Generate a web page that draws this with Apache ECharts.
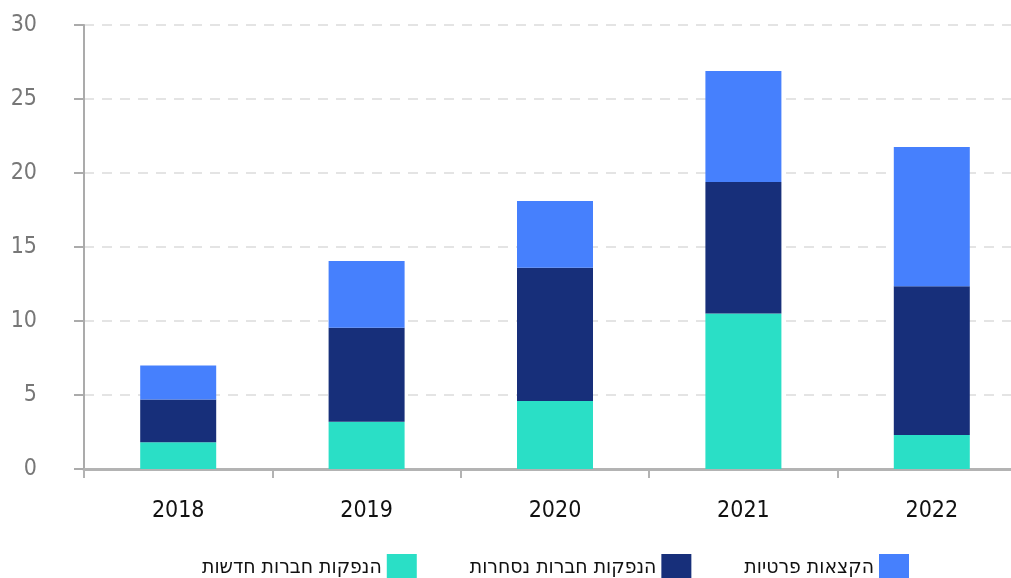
<!DOCTYPE html>
<html>
<head>
<meta charset="utf-8">
<script src="https://cdn.jsdelivr.net/npm/echarts@6/dist/echarts.min.js"></script>
<style>
html,body{margin:0;padding:0;background:#fff;overflow:hidden}
#chart{width:1040px;height:578px}
</style>
</head>
<body>
<div id="chart"></div>
<script>
var years = ['2018', '2019', '2020', '2021', '2022']
var yTicks = [0, 5, 10, 15, 20, 25, 30]
var newIssues = [1.8, 3.2, 4.6, 10.5, 2.3]       // הנפקות חברות חדשות
var listedIssues = [2.9, 6.35, 9.0, 8.9, 10.05]   // הנפקות חברות נסחרות
var privateAlloc = [2.3, 4.5, 4.5, 7.5, 9.4]      // הקצאות פרטיות
var names = ['הנפקות חברות חדשות', 'הנפקות חברות נסחרות', 'הקצאות פרטיות']
var colors = ['#2ADFC6', '#172F7A', '#4680FD']

var font = '"Liberation Sans Narrow", "DejaVu Sans Condensed", "Liberation Sans", sans-serif'
// chart div is a bit wider than the window: the last category runs past the right edge
var myChart = echarts.init(document.getElementById('chart'))

var seriesData = [newIssues, listedIssues, privateAlloc]
var series = []
for (let i in seriesData) {
  series.push({
    name: names[i],
    type: 'bar',
    stack: 'total',
    barWidth: 76,
    itemStyle: { color: colors[i] },
    data: seriesData[i]
  })
}

var option = {
  animation: false,
  textStyle: { fontFamily: font },
  grid: { left: 84, right: 14, top: 25, bottom: 109 },
  legend: {
    data: names,
    left: 197,
    top: 549,
    align: 'right',
    itemWidth: 30,
    itemHeight: 28,
    itemGap: 53,
    icon: 'rect',
    textStyle: { fontFamily: font, fontSize: 21, color: '#111' }
  },
  xAxis: {
    type: 'category',
    data: years,
    axisLine: { lineStyle: { color: '#b3b3b3', width: 3 } },
    axisTick: { show: true, length: 9, lineStyle: { color: '#b3b3b3', width: 2 } },
    axisLabel: { fontSize: 23, color: '#111', margin: 31, fontFamily: font }
  },
  yAxis: {
    type: 'value',
    min: yTicks[0],
    max: yTicks[yTicks.length - 1],
    interval: 5,
    axisLine: { show: true, lineStyle: { color: '#ababab', width: 2 } },
    axisTick: { show: true, length: 10, lineStyle: { color: '#ababab', width: 2 } },
    axisLabel: { fontSize: 23, color: '#777', margin: 47, fontFamily: font },
    splitLine: { lineStyle: { color: '#dcdcdc', type: [10, 8], width: 1.5 } }
  },
  series: series
}
myChart.setOption(option)
</script>
</body>
</html>
